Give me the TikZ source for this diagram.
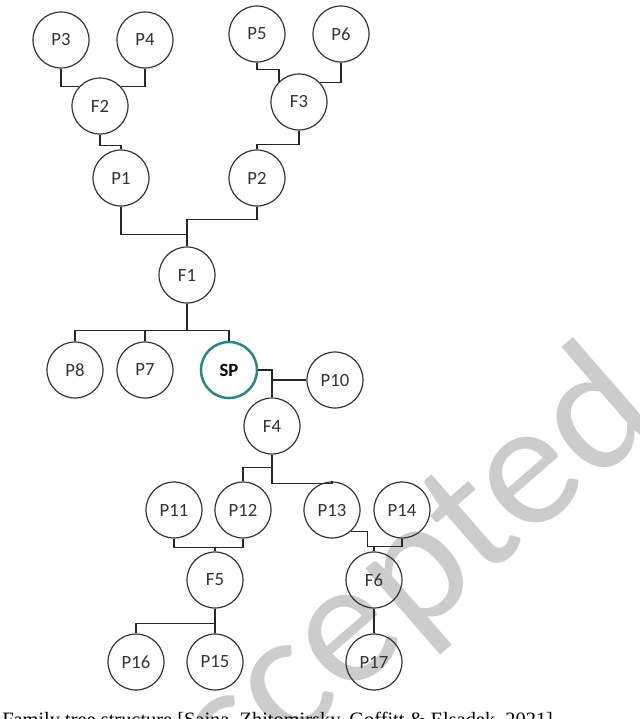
\documentclass[tikz,border=0pt]{standalone}
\usepackage{fontspec}
\setmainfont{Liberation Serif}
\newfontfamily\labelfont{Carlito}
\usepackage{tikz}
\definecolor{sealine}{RGB}{42,135,135}

\begin{document}
\begin{tikzpicture}[x=0.75pt,y=0.75pt,yscale=-1,xscale=1,
    member/.style={circle,draw=black!80,line width=0.9pt,minimum size=42pt,inner sep=0pt,font=\labelfont\fontsize{14}{16}\selectfont,text=black!80},
    selfnode/.style={member,draw=sealine,line width=1.9pt,font=\labelfont\bfseries\fontsize{14}{16}\selectfont,text=black},
    kinline/.style={draw=black!85,line width=1.1pt}]
    %set diagram left start at 0, and has height of 719
    \useasboundingbox (0,0) rectangle (640,719);
    \clip (0,0) rectangle (640,719);

    % Stamp
    \node[rotate=41,text=black!20,font=\labelfont\fontsize{134}{134}\selectfont,inner sep=0pt] (stamp) at (377,609) {Accepted};

    %Shape: Circle [upper generations]
    \node[member] (P3) at (61,40) {P3};
    \node[member] (P4) at (145,40) {P4};
    \node[member] (F2) at (100,106) {F2};
    \node[member] (P1) at (121,178) {P1};
    \node[member] (P5) at (257,34) {P5};
    \node[member] (P6) at (341,34) {P6};
    \node[member] (F3) at (299,102) {F3};
    \node[member] (P2) at (257,178) {P2};
    \node[member] (F1) at (187,275) {F1};
    %Shape: Circle [siblings]
    \node[member] (P8) at (75,370) {P8};
    \node[member] (P7) at (145,370) {P7};
    \node[selfnode] (SP) at (229,370) {SP};
    \node[member] (P10) at (335,380) {P10};
    %Shape: Circle [lower generations]
    \node[member] (F4) at (272,426) {F4};
    \node[member] (P11) at (174,510) {P11};
    \node[member] (P12) at (243,510) {P12};
    \node[member] (P13) at (332,510) {P13};
    \node[member] (P14) at (402,510) {P14};
    \node[member] (F5) at (215,580) {F5};
    \node[member] (F6) at (374,580) {F6};
    \node[member] (P16) at (136,662) {P16};
    \node[member] (P15) at (215,662) {P15};
    \node[member] (P17) at (374,662) {P17};

    %Lines
    \draw[kinline] (P3.south) |- (F2.137);
    \draw[kinline] (P4.south) |- (F2.43);
    \draw[kinline] (F2.south) -- ++(0,11) -| (P1.north);
    \draw[kinline] (P5.south) -- ++(0,7) -| (F3.135);
    \draw[kinline] (P6.south) |- (F3.43);
    \draw[kinline] (F3.south) -- ++(0,14) -| (P2.north);
    \draw[kinline] (P1.south) -- ++(0,28) -| (F1.north);
    \draw[kinline] (P2.south) -- ++(0,13) -| (F1.north);
    \draw[kinline] (F1.south) -- ++(0,27) -| (P8.north);
    \draw[kinline] (F1.south) -- ++(0,27) -| (P7.north);
    \draw[kinline] (F1.south) -- ++(0,27) -| (SP.north);
    \draw[kinline] (SP.east) -| (F4.north);
    \draw[kinline] (P10.west) -| (F4.north);
    \draw[kinline] (F4.south) -- ++(0,13) -| (P12.north);
    \draw[kinline] (F4.south) -- ++(0,29) -| (P13.north);
    \draw[kinline] (P11.south) -- ++(0,9) -| (F5.north);
    \draw[kinline] (P12.south) -- ++(0,9) -| (F5.north);
    \draw[kinline] (F5.south) -- ++(0,15) -| (P16.north);
    \draw[kinline] (F5.south) -- (P15.north);
    \draw[kinline] (P13.-49) -- ++(17,0) -- ++(0,15) -| (F6.north);
    \draw[kinline] (P14.south) -- ++(0,8) -| (F6.north);
    \draw[kinline] (F6.south) -- (P17.north);

    % Text Node
    \node[anchor=north west,inner sep=0pt,font=\fontsize{15.3}{17}\selectfont] (caption) at (2,712) {Family tree structure [Sajna, Zhitomirsky, Goffitt \& Elsadek, 2021]};

\end{tikzpicture}
\end{document}
